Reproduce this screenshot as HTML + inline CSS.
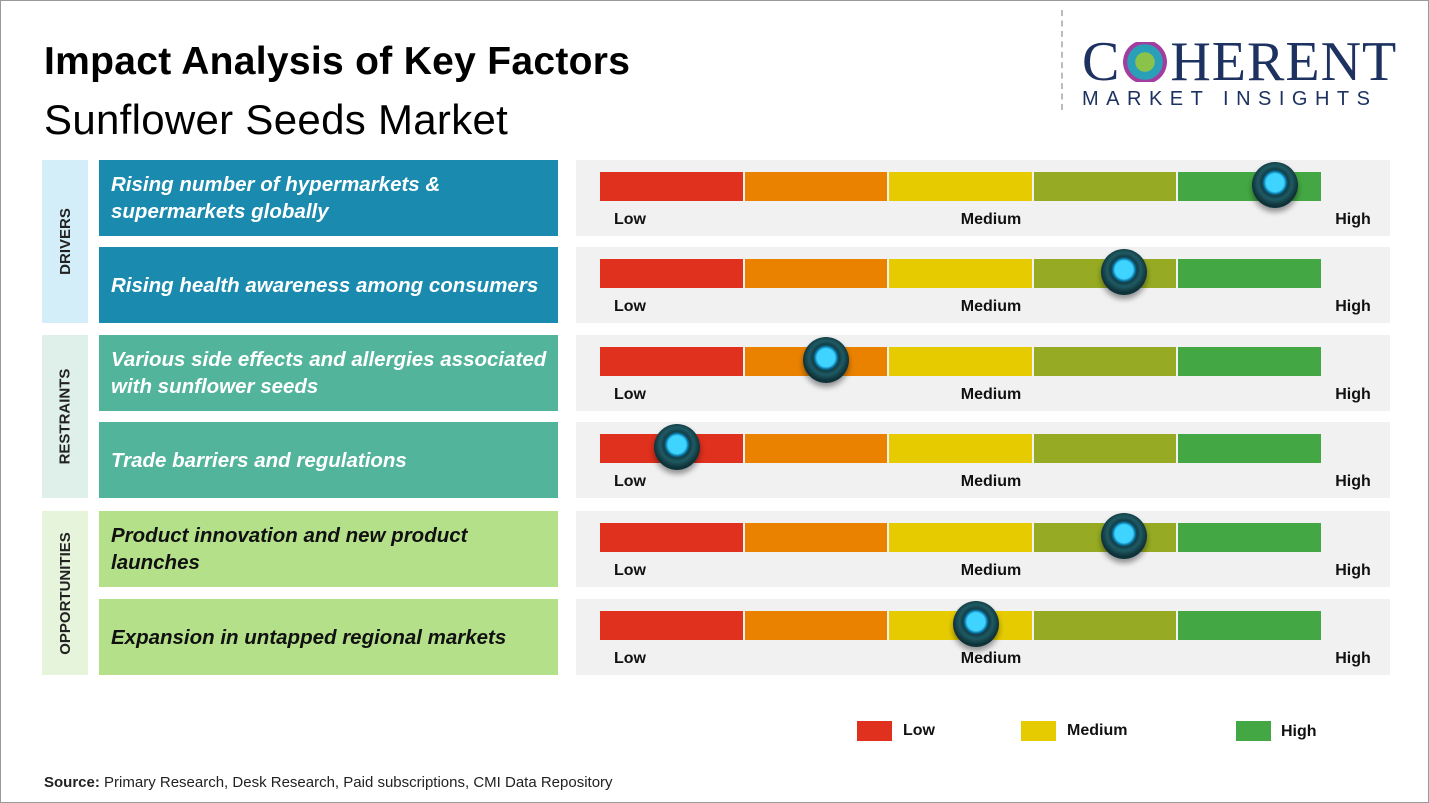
<!DOCTYPE html>
<html><head><meta charset="utf-8"><style>
body{margin:0;width:1429px;height:803px;overflow:hidden;background:#fff;font-family:"Liberation Sans",sans-serif;position:relative}
.a{position:absolute}
.frame{left:0;top:0;width:1427px;height:801px;border:1px solid #999}
.t1{left:44px;top:40px;font-size:39px;font-weight:bold;color:#000;letter-spacing:0.3px}
.t2{left:44px;top:96px;font-size:42px;color:#000;letter-spacing:0.3px}
.cat{display:flex;align-items:center;justify-content:center}
.cat span{transform:rotate(-90deg);white-space:nowrap;font-size:15px;font-weight:bold;color:#222}
.lbl{left:99px;width:459px;height:76px;display:flex;align-items:center;padding-left:12px;box-sizing:border-box;font-size:20.5px;font-weight:bold;font-style:italic;line-height:27px}
.panel{left:576px;width:814px;height:76px;background:#f1f1f2}
.sc{font-size:16px;font-weight:bold;color:#111}
</style></head><body>
<div class="a frame"></div>
<div class="a t1">Impact Analysis of Key Factors</div>
<div class="a t2">Sunflower Seeds Market</div>
<div class="a" style="left:1061px;top:10px;height:100px;border-left:2px dashed #bbb"></div>
<div class="a" style="left:1082px;top:32px;width:330px">
 <div style="font-family:'Liberation Serif',serif;font-size:56px;color:#1d3260;letter-spacing:1px;line-height:60px">C<span style="display:inline-block;width:50px;height:40px;vertical-align:-2px;background:radial-gradient(circle,#8bc34a 0 30%,#2a9fb8 31% 55%,#a13ea0 56% 68%,transparent 69%)"></span>HERENT</div>
 <div style="font-size:20px;color:#1d3260;letter-spacing:7.5px;margin-top:-4px">MARKET INSIGHTS</div>
</div>
<div class="a cat" style="left:42px;top:160px;width:46px;height:163px;background:#d4eef9"><span>DRIVERS</span></div>
<div class="a cat" style="left:42px;top:335px;width:46px;height:163px;background:#dff0ea"><span>RESTRAINTS</span></div>
<div class="a cat" style="left:42px;top:511px;width:46px;height:164px;background:#e6f4dc"><span>OPPORTUNITIES</span></div>
<div id="rows"></div>
<div class="a" style="left:857px;top:721px;width:35px;height:20px;background:#e0301e"></div>
<div class="a sc" style="left:903px;top:722px">Low</div>
<div class="a" style="left:1021px;top:721px;width:35px;height:20px;background:#e6cb00"></div>
<div class="a sc" style="left:1067px;top:722px">Medium</div>
<div class="a" style="left:1236px;top:721px;width:35px;height:20px;background:#43a843"></div>
<div class="a sc" style="left:1281px;top:723px">High</div>
<div class="a" style="left:44px;top:774px;font-size:15px;color:#222"><b>Source:</b> Primary Research, Desk Research, Paid subscriptions, CMI Data Repository</div>
<script>
const factors=["Rising number of hypermarkets &<br>supermarkets globally","Rising health awareness among consumers","Various side effects and allergies associated<br>with sunflower seeds","Trade barriers and regulations","Product innovation and new product<br>launches","Expansion in untapped regional markets"];
const impact=[93.4,72.5,31.3,10.6,72.5,52];
const rowTops=[160,247,335,422,511,599];
const labelColors=["#1a8aaf","#1a8aaf","#52b49a","#52b49a","#b5e08a","#b5e08a"];
const textColors=["#fff","#fff","#fff","#fff","#111","#111"];
const segColors=["#e0301e","#ea8200","#e6cb00","#96ab23","#43a843"];
const X0=600,W=723;
const xs=v=>X0+v/100*W;
const root=document.getElementById('rows');
factors.forEach((f,i)=>{
 const t=rowTops[i];
 const l=document.createElement('div');l.className='a lbl';l.style.top=t+'px';l.style.background=labelColors[i];l.style.color=textColors[i];l.innerHTML=f;
 
 
 root.appendChild(l);
 const p=document.createElement('div');p.className='a panel';p.style.top=t+'px';
 
 
 root.appendChild(p);
 segColors.forEach((c,j)=>{
  const s=document.createElement('div');s.className='a';
  s.style.cssText=`left:${X0+j*W/5}px;top:${t+12}px;width:${W/5-2}px;height:29px;background:${c}`;
  
  
  root.appendChild(s);
 });
 [["Low",614,0],["Medium",991,-0.5],["High",1353,-0.5]].forEach(([tx,x,o])=>{
  const s=document.createElement('div');s.className='a sc';s.textContent=tx;
  s.style.cssText=`left:${x}px;top:${t+51}px;transform:translateX(${o*100}%)`;
  
  
  root.appendChild(s);
 });
 const k=document.createElement('div');k.className='a';
 const cx=xs(impact[i]),cy=t+25;
 k.style.cssText=`left:${cx-23}px;top:${cy-23}px;width:46px;height:46px;border-radius:50%;background:radial-gradient(circle at 50% 45%,#3fd3ff 0 9px,#0b7fb0 11px,#123e48 13px,#1f5a63 17px,#0f3138 23px);box-shadow:0 4px 6px rgba(0,0,0,.4)`;
 
 
 root.appendChild(k);
});
</script>
</body></html>
